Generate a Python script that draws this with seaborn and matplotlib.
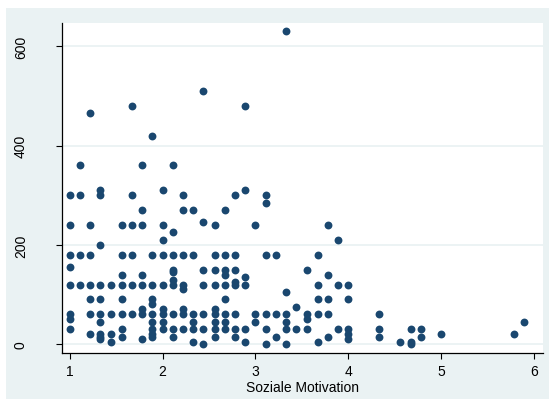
import matplotlib
matplotlib.use("Agg")
import matplotlib.pyplot as plt
from matplotlib.patches import Rectangle
import pandas as pd
import seaborn as sns

# Motivation score levels (steps of 1/9) and the observed minutes at each level
motivation_levels = [1.00, 1.11, 1.22, 1.33, 1.44, 1.56, 1.67, 1.78, 1.89,
                     2.00, 2.11, 2.22, 2.33, 2.44, 2.56, 2.67, 2.78, 2.89,
                     3.00, 3.11, 3.22, 3.33, 3.44, 3.56, 3.67, 3.78, 3.89,
                     4.00, 4.33, 4.56, 4.67, 4.78, 5.00, 5.78, 5.89]

minutes_by_level = [
    [300, 240, 180, 155, 120, 60, 50, 30],            # 1.00
    [360, 300, 180, 120],                             # 1.11
    [465, 240, 180, 120, 90, 60, 20],                 # 1.22
    [310, 300, 200, 120, 90, 60, 45, 20, 15, 10],     # 1.33
    [120, 60, 20, 5],                                 # 1.44
    [240, 180, 140, 120, 90, 60, 30, 15],             # 1.56
    [480, 300, 240, 180, 120, 60],                    # 1.67
    [360, 270, 240, 140, 120, 70, 60, 10],            # 1.78
    [420, 180, 120, 90, 80, 60, 45, 30, 20, 15],      # 1.89
    [310, 240, 210, 180, 120, 70, 60, 45, 30],        # 2.00
    [360, 225, 180, 150, 145, 130, 120, 60, 30, 15],  # 2.11
    [300, 270, 180, 120, 110, 70, 60, 30],            # 2.22
    [270, 180, 60, 45, 30, 5],                        # 2.33
    [510, 245, 150, 120, 60, 30, 0],                  # 2.44
    [240, 180, 150, 120, 70, 60, 45, 30, 15],         # 2.56
    [270, 180, 150, 140, 120, 90, 60, 45, 30],        # 2.67
    [300, 180, 150, 125, 120, 60, 30, 15],            # 2.78
    [480, 310, 135, 120, 30, 5],                      # 2.89
    [240, 60, 45],                                    # 3.00
    [300, 285, 180, 60, 30, 0],                       # 3.11
    [180, 60, 15],                                    # 3.22
    [630, 105, 60, 45, 30, 0],                        # 3.33
    [75, 30],                                         # 3.44
    [150, 60, 50, 30],                                # 3.56
    [180, 120, 90, 60, 5],                            # 3.67
    [240, 140, 90, 60, 15],                           # 3.78
    [210, 120, 30],                                   # 3.89
    [120, 90, 30, 20, 10],                            # 4.00
    [60, 30, 15],                                     # 4.33
    [5],                                              # 4.56
    [30, 5, 0],                                       # 4.67
    [30, 15],                                         # 4.78
    [20],                                             # 5.00
    [20],                                             # 5.78
    [45],                                             # 5.89
]

x_ticks = [1, 2, 3, 4, 5, 6]
y_ticks = [0, 200, 400, 600]
x_title = "Soziale Motivation"

rows = [(lvl, m) for lvl, ms in zip(motivation_levels, minutes_by_level) for m in ms]
df = pd.DataFrame(rows, columns=["motivation", "minutes"])

BG = "#EAF2F3"
NAVY = "#1A476F"

plt.rcParams["font.family"] = ["Liberation Sans", "DejaVu Sans"]

W, H = 549, 402
fig = plt.figure(figsize=(W / 100, H / 100), dpi=100)
fig.patch.set_facecolor("white")
# outer graph region, drawn beneath the axes
fig.patches.append(Rectangle((6 / W, 2 / H), (W - 6) / W, (H - 11) / H,
                             transform=fig.transFigure, facecolor=BG,
                             edgecolor="none", zorder=-10))

left, right, top, bottom = 62, 543, 24, 353.5
ax = fig.add_axes([left / W, (H - bottom) / H, (right - left) / W, (bottom - top) / H])
ax.set_zorder(1)
ax.set_facecolor("white")

for yt in y_ticks:
    ax.axhline(yt, color=BG, lw=1.3, zorder=0)

sns.scatterplot(data=df, x="motivation", y="minutes", color=NAVY, s=32,
                linewidth=0, ax=ax, zorder=3)

ax.set_xlim(0.916, 6.097)
ax.set_ylim(-17, 647)
ax.set_xticks(x_ticks)
ax.set_yticks(y_ticks)
ax.set_xticklabels([str(t) for t in x_ticks], fontsize=10)
ax.set_yticklabels([str(t) for t in y_ticks], fontsize=10, rotation=90, va="center")

for s in ["top", "right"]:
    ax.spines[s].set_visible(False)
for s in ["left", "bottom"]:
    ax.spines[s].set_color("black")
    ax.spines[s].set_linewidth(0.9)

ax.tick_params(axis="x", length=4, width=0.8, pad=4, colors="black")
ax.tick_params(axis="y", length=4.5, width=0.8, pad=20, colors="black")

ax.set_xlabel(x_title, fontsize=10, labelpad=1.5)
ax.set_ylabel("")

fig.savefig("out.png", dpi=100, facecolor="white")
